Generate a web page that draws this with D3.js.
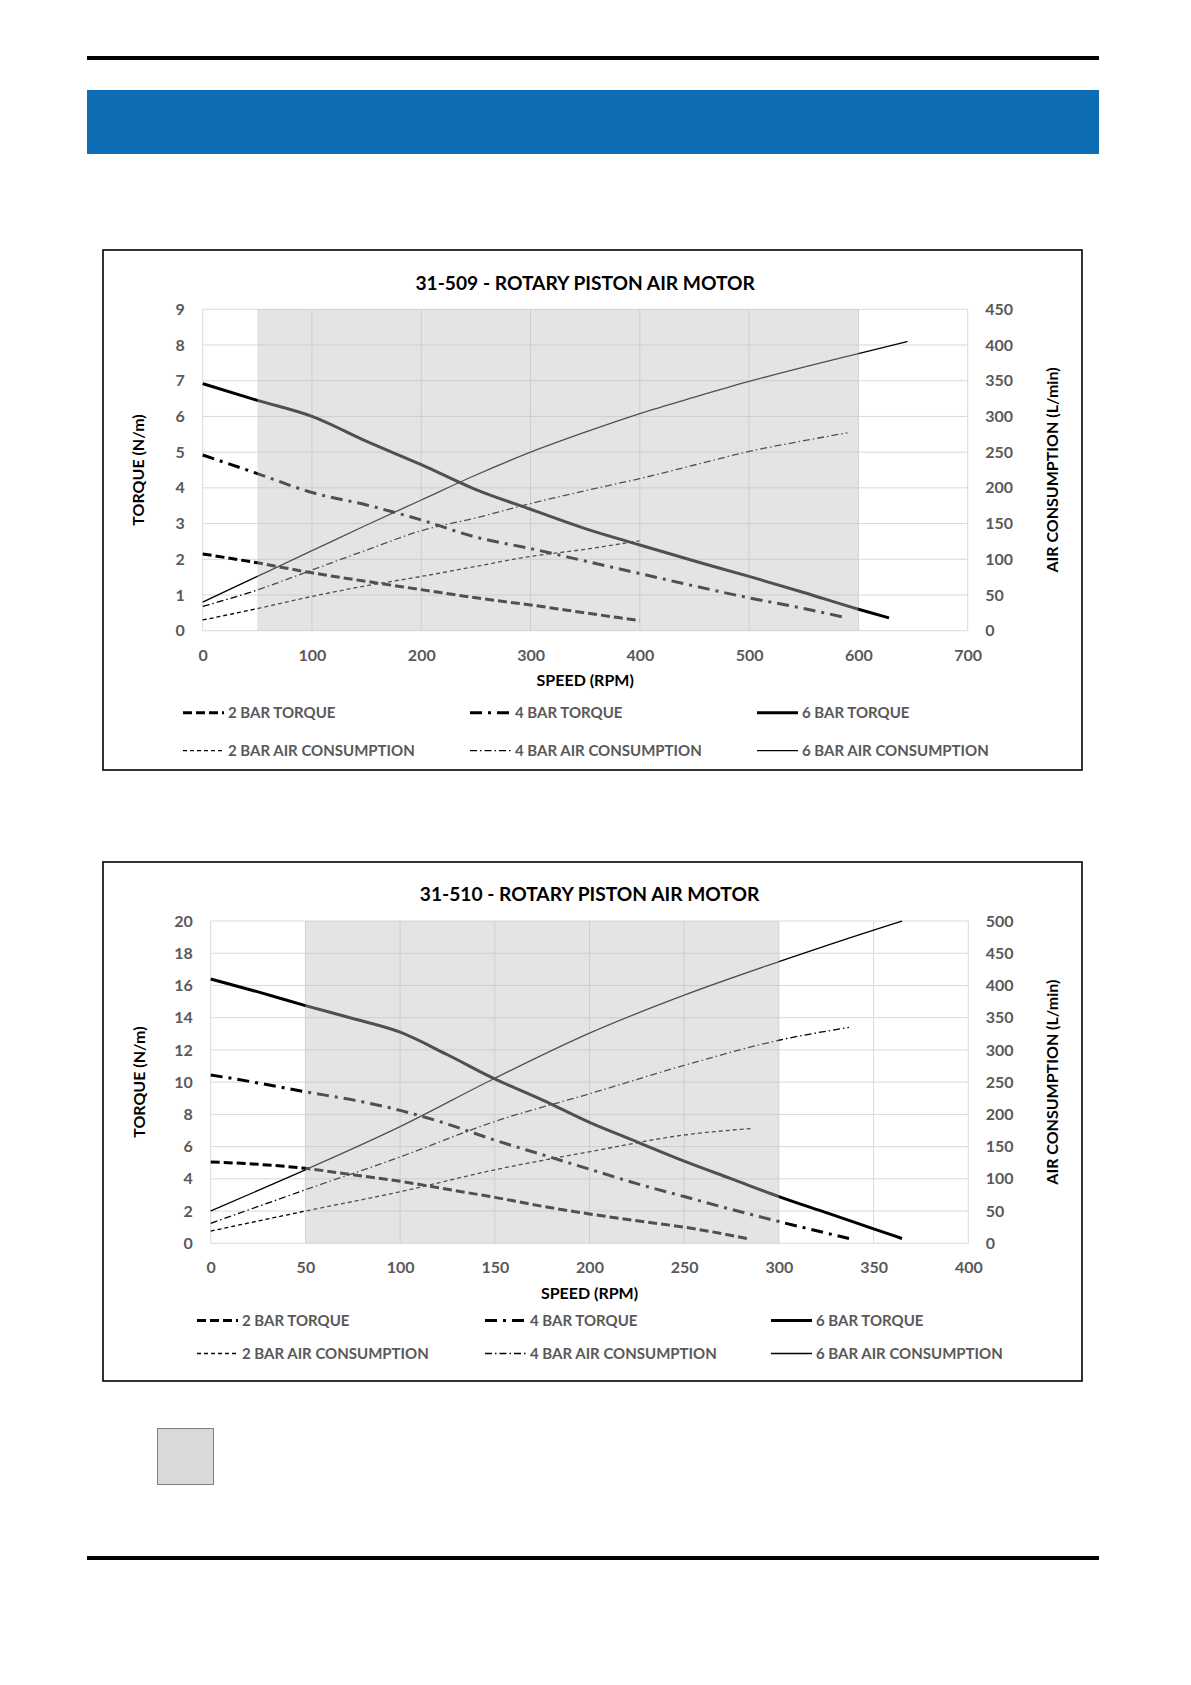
<!DOCTYPE html>
<html lang="en">
<head>
<meta charset="utf-8">
<title>Rotary Piston Air Motors</title>
<script src="https://d3js.org/d3.v7.min.js"></script>
<style>
    body { margin: 0; background: #fff; }
    svg text { font-family: Lato, "Open Sans", sans-serif; font-weight: 700; }
    .tick text { fill: #595959; font-size: 16px; }
    .legend-label { fill: #595959; font-size: 15px; }
    .axis-title { fill: #000; font-size: 16px; }
    .chart-title { fill: #000; font-size: 19.2px; }
</style>
</head>
<body>
<div id="page"></div>
<script>
    // ---- data ----
    const seriesNames = ["2 BAR TORQUE", "4 BAR TORQUE", "6 BAR TORQUE",
        "2 BAR AIR CONSUMPTION", "4 BAR AIR CONSUMPTION", "6 BAR AIR CONSUMPTION"];

    // 31-509
    const m509Title = "31-509 - ROTARY PISTON AIR MOTOR";
    const m509SpeedTicks = [0, 100, 200, 300, 400, 500, 600, 700];
    const m509TorqueTicks = [0, 1, 2, 3, 4, 5, 6, 7, 8, 9];
    const m509AirTicks = [0, 50, 100, 150, 200, 250, 300, 350, 400, 450];
    const m509Band = [50, 600];
    const m509Torque2 = [[0, 2.15], [50, 1.9], [100, 1.62], [150, 1.38], [200, 1.15], [250, 0.92], [300, 0.72], [350, 0.5], [400, 0.28]];
    const m509Torque4 = [[0, 4.92], [50, 4.4], [100, 3.87], [150, 3.52], [200, 3.1], [250, 2.62], [300, 2.3], [350, 1.95], [400, 1.6], [450, 1.25], [500, 0.92], [550, 0.62], [588, 0.37]];
    const m509Torque6 = [[0, 6.92], [50, 6.45], [100, 6.0], [150, 5.3], [200, 4.65], [250, 3.95], [300, 3.4], [350, 2.86], [400, 2.4], [450, 1.95], [500, 1.52], [550, 1.07], [600, 0.6], [628, 0.36]];
    const m509Air2 = [[0, 15], [50, 31], [100, 48], [150, 63], [200, 76], [250, 90], [300, 104], [350, 114], [400, 126]];
    const m509Air4 = [[0, 34], [50, 57], [100, 85], [150, 113], [200, 140], [250, 158], [300, 178], [350, 196], [400, 213], [450, 232], [500, 251], [550, 266], [590, 277]];
    const m509Air6 = [[0, 40], [50, 76], [100, 112], [150, 148], [200, 183], [250, 218], [300, 250], [350, 278], [400, 304], [450, 327], [500, 349], [550, 369], [600, 388], [645, 405]];

    // 31-510
    const m510Title = "31-510 - ROTARY PISTON AIR MOTOR";
    const m510SpeedTicks = [0, 50, 100, 150, 200, 250, 300, 350, 400];
    const m510TorqueTicks = [0, 2, 4, 6, 8, 10, 12, 14, 16, 18, 20];
    const m510AirTicks = [0, 50, 100, 150, 200, 250, 300, 350, 400, 450, 500];
    const m510Band = [50, 300];
    const m510Torque2 = [[0, 5.05], [25, 4.9], [50, 4.65], [75, 4.25], [100, 3.85], [125, 3.35], [150, 2.85], [175, 2.3], [200, 1.82], [225, 1.4], [250, 1.0], [270, 0.6], [285, 0.25]];
    const m510Torque4 = [[0, 10.45], [25, 9.95], [50, 9.4], [75, 8.9], [100, 8.25], [125, 7.4], [150, 6.4], [175, 5.5], [200, 4.6], [225, 3.7], [250, 2.9], [275, 2.1], [300, 1.35], [337, 0.3]];
    const m510Torque6 = [[0, 16.4], [25, 15.6], [50, 14.75], [75, 13.95], [100, 13.1], [125, 11.7], [150, 10.2], [175, 8.9], [200, 7.5], [225, 6.3], [250, 5.1], [275, 4.0], [300, 2.9], [325, 1.9], [350, 0.9], [365, 0.3]];
    const m510Air2 = [[0, 19], [50, 50], [100, 80], [150, 114], [200, 142], [250, 168], [285, 178]];
    const m510Air4 = [[0, 31], [50, 83], [100, 134], [150, 189], [200, 232], [250, 276], [300, 315], [337, 335]];
    const m510Air6 = [[0, 50], [50, 114], [100, 181], [150, 256], [200, 326], [250, 385], [300, 437], [350, 486], [365, 500]];

    // ---- page ----
    const W = 1191, H = 1685;
    const svg = d3.select("#page").append("svg")
        .attr("width", W)
        .attr("height", H);

    svg.append("rect").attr("width", W).attr("height", H).attr("fill", "#fff");
    svg.append("rect").attr("x", 87).attr("y", 56).attr("width", 1012).attr("height", 4).attr("fill", "#000");
    svg.append("rect").attr("x", 87).attr("y", 90).attr("width", 1012).attr("height", 64).attr("fill", "#0f6db5");
    svg.append("rect").attr("x", 157.5).attr("y", 1428.5).attr("width", 56).attr("height", 56)
        .attr("fill", "#d9d9d9").attr("stroke", "#7f7f7f").attr("stroke-width", 1);
    svg.append("rect").attr("x", 87).attr("y", 1556).attr("width", 1012).attr("height", 4).attr("fill", "#000");

    // line styles: torque thick, air consumption thin
    const styles = [
        { width: 3, dash: "9,4" },
        { width: 3, dash: "12,6,3,6" },
        { width: 3, dash: null },
        { width: 1.3, dash: "4,3" },
        { width: 1.3, dash: "7,3,1.5,3" },
        { width: 1.3, dash: null }
    ];

    function drawChart(cfg) {
        const g = svg.append("g");
        const p = cfg.plot;

        const x = d3.scaleLinear().domain(d3.extent(cfg.speedTicks)).range([p.left, p.right]);
        const yT = d3.scaleLinear().domain(d3.extent(cfg.torqueTicks)).range([p.bottom, p.top]);
        const yA = d3.scaleLinear().domain(d3.extent(cfg.airTicks)).range([p.bottom, p.top]);

        // frame
        g.append("rect")
            .attr("x", cfg.box[0]).attr("y", cfg.box[1])
            .attr("width", cfg.box[2]).attr("height", cfg.box[3])
            .attr("fill", "#fff").attr("stroke", "#000").attr("stroke-width", 1.6);

        // gridlines
        g.append("g").selectAll("line").data(cfg.torqueTicks).join("line")
            .attr("x1", p.left).attr("x2", p.right)
            .attr("y1", d => yT(d)).attr("y2", d => yT(d))
            .attr("stroke", "#d9d9d9").attr("stroke-width", 1);
        g.append("g").selectAll("line").data(cfg.speedTicks).join("line")
            .attr("x1", d => x(d)).attr("x2", d => x(d))
            .attr("y1", p.top).attr("y2", p.bottom)
            .attr("stroke", "#d9d9d9").attr("stroke-width", 1);

        // series
        const lineT = d3.line().x(d => x(d[0])).y(d => yT(d[1])).curve(d3.curveMonotoneX);
        const lineA = d3.line().x(d => x(d[0])).y(d => yA(d[1])).curve(d3.curveMonotoneX);
        cfg.series.forEach((s, i) => {
            g.append("path")
                .datum(s)
                .attr("d", i < 3 ? lineT : lineA)
                .attr("fill", "none")
                .attr("stroke", "#000")
                .attr("stroke-width", styles[i].width)
                .attr("stroke-dasharray", styles[i].dash);
        });

        // operating range band, laid over the lines
        g.append("rect")
            .attr("x", x(cfg.band[0])).attr("y", p.top)
            .attr("width", x(cfg.band[1]) - x(cfg.band[0]))
            .attr("height", p.bottom - p.top)
            .attr("fill", "rgb(190,190,190)").attr("fill-opacity", 0.42);

        // axes
        g.append("g")
            .attr("transform", `translate(0,${p.bottom})`)
            .call(d3.axisBottom(x).tickValues(cfg.speedTicks).tickSize(0).tickPadding(18.5))
            .call(a => a.select(".domain").remove());
        g.append("g")
            .attr("transform", `translate(${p.left},0)`)
            .call(d3.axisLeft(yT).tickValues(cfg.torqueTicks).tickSize(0).tickPadding(18))
            .call(a => a.select(".domain").remove());
        g.append("g")
            .attr("transform", `translate(${p.right},0)`)
            .call(d3.axisRight(yA).tickValues(cfg.airTicks).tickSize(0).tickPadding(17.5))
            .call(a => a.select(".domain").remove());
        g.selectAll(".tick text").attr("font-family", null).attr("font-size", null);

        // titles
        const cx = (p.left + p.right) / 2;
        const cy = (p.top + p.bottom) / 2;
        g.append("text").attr("class", "chart-title")
            .attr("x", cx).attr("y", cfg.titleY).attr("text-anchor", "middle")
            .text(cfg.title);
        g.append("text").attr("class", "axis-title")
            .attr("x", cx).attr("y", p.bottom + 50).attr("dy", "0.35em").attr("text-anchor", "middle")
            .text("SPEED (RPM)");
        g.append("text").attr("class", "axis-title")
            .attr("transform", `translate(${cfg.leftTitleX},${cy}) rotate(-90)`)
            .attr("dy", "0.35em").attr("text-anchor", "middle")
            .text("TORQUE (N/m)");
        g.append("text").attr("class", "axis-title")
            .attr("transform", `translate(${cfg.rightTitleX},${cy}) rotate(-90)`)
            .attr("dy", "0.35em").attr("text-anchor", "middle")
            .text("AIR CONSUMPTION (L/min)");

        // legend: two rows of three
        seriesNames.forEach((name, i) => {
            const lx = cfg.legendCols[i % 3];
            const ly = cfg.legendRows[Math.floor(i / 3)];
            g.append("line")
                .attr("x1", lx).attr("x2", lx + 41)
                .attr("y1", ly).attr("y2", ly)
                .attr("stroke", "#000")
                .attr("stroke-width", styles[i].width)
                .attr("stroke-dasharray", styles[i].dash);
            g.append("text").attr("class", "legend-label")
                .attr("x", lx + 45).attr("y", ly).attr("dy", "0.35em")
                .text(name);
        });
    }

    drawChart({
        title: m509Title,
        speedTicks: m509SpeedTicks,
        torqueTicks: m509TorqueTicks,
        airTicks: m509AirTicks,
        band: m509Band,
        series: [m509Torque2, m509Torque4, m509Torque6, m509Air2, m509Air4, m509Air6],
        box: [103, 250, 979, 520],
        plot: { left: 202.7, right: 967.7, top: 309.3, bottom: 630.7 },
        titleY: 290,
        leftTitleX: 138,
        rightTitleX: 1052,
        legendCols: [183, 470, 757],
        legendRows: [712.7, 750.7]
    });

    drawChart({
        title: m510Title,
        speedTicks: m510SpeedTicks,
        torqueTicks: m510TorqueTicks,
        airTicks: m510AirTicks,
        band: m510Band,
        series: [m510Torque2, m510Torque4, m510Torque6, m510Air2, m510Air4, m510Air6],
        box: [103, 862, 979, 519],
        plot: { left: 210.7, right: 968.3, top: 921, bottom: 1243.3 },
        titleY: 901,
        leftTitleX: 139.5,
        rightTitleX: 1052,
        legendCols: [197, 485, 771],
        legendRows: [1320.5, 1353.5]
    });
</script>
</body>
</html>
